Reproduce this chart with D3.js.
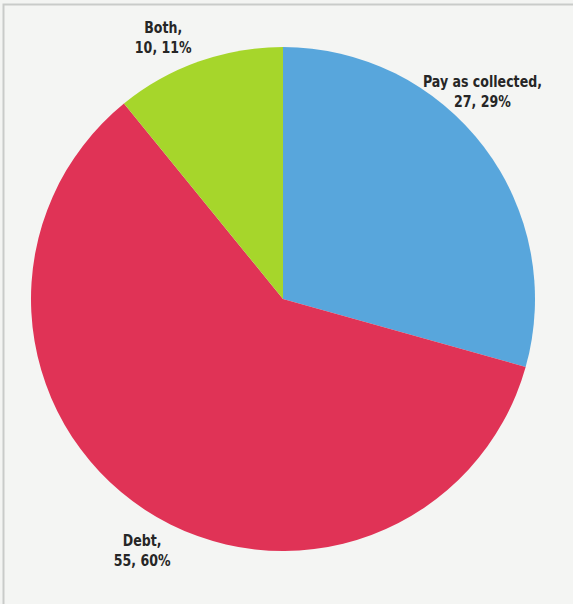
<!DOCTYPE html>
<html>
<head>
<meta charset="utf-8">
<script src="https://cdn.jsdelivr.net/npm/d3@7"></script>
<style>
  html, body { margin: 0; padding: 0; background: #f3f4f2; }
  svg { display: block; }
  .lbl { font-family: "DejaVu Sans", sans-serif; }
</style>
</head>
<body>
<svg id="chart" width="573" height="604"></svg>
<script>
// Repayment approach counts
const categories = ["Pay as collected", "Debt", "Both"];
const counts = [27, 55, 10];
const percents = [29, 60, 11];
const colors = ["#58a6dc", "#e03356", "#a6d62b"];

const width = 573, height = 604;
const cx = 283, cy = 299, radius = 252;

const svg = d3.select("#chart");

// panel frame (runs off the right and bottom edges)
svg.append("rect")
  .attr("x", 0).attr("y", 0).attr("width", width).attr("height", height)
  .attr("fill", "#f3f4f2");
svg.append("rect")
  .attr("x", 3.5).attr("y", 4.5).attr("width", width + 10).attr("height", height + 10)
  .attr("fill", "#f4f5f3")
  .attr("stroke", "#c9cbc9")
  .attr("stroke-width", 2);

const data = categories.map((c, i) => ({ name: c, value: counts[i], pct: percents[i], color: colors[i] }));

const pie = d3.pie().value(d => d.value).sort(null);
const arcs = pie(data);

const arc = d3.arc().innerRadius(0).outerRadius(radius);

const g = svg.append("g").attr("transform", `translate(${cx},${cy})`);

g.selectAll("path.slice")
  .data(arcs)
  .join("path")
  .attr("class", "slice")
  .attr("d", arc)
  .attr("fill", d => d.data.color);

// labels sit just outside the rim, rotated slightly against the clock;
// glyphs are squeezed horizontally for a condensed face
const labelRadius = 288;
const labelTurn = [-9, -4, -5].map(a => a * Math.PI / 180);
const squeeze = 0.84;

const lbl = g.selectAll("g.lbl")
  .data(arcs)
  .join("g")
  .attr("class", "lbl")
  .attr("transform", (d, i) => {
    const a = (d.startAngle + d.endAngle) / 2 + labelTurn[i];
    return `translate(${labelRadius * Math.sin(a)},${-labelRadius * Math.cos(a)}) scale(${squeeze},1)`;
  });

const txt = lbl.append("text")
  .attr("text-anchor", "middle")
  .attr("font-weight", "bold")
  .attr("font-size", 15)
  .attr("fill", "#262626");

txt.append("tspan").attr("x", 0).attr("y", -4).text(d => d.data.name + ",");
txt.append("tspan").attr("x", 0).attr("y", 16).text(d => `${d.data.value}, ${d.data.pct}%`);
</script>
</body>
</html>
